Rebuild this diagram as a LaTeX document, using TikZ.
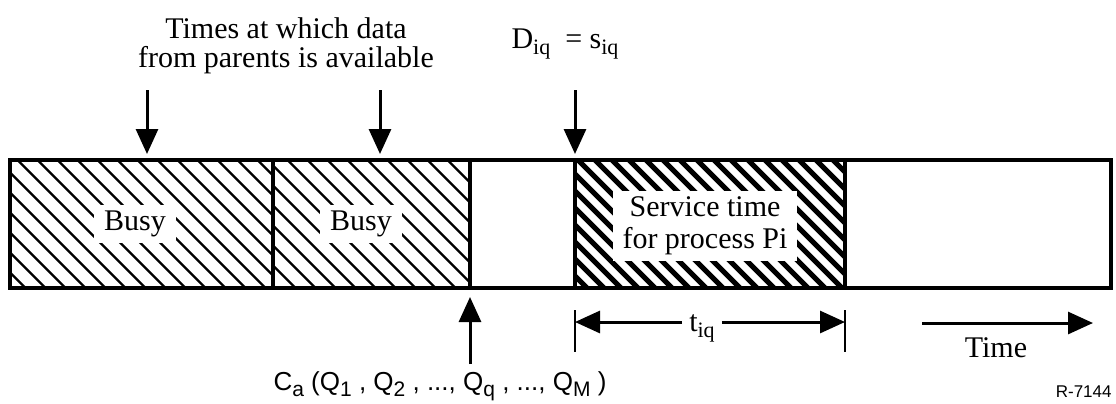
\documentclass[tikz,border=0pt]{standalone}
\usepackage{fontspec}
\setmainfont{Liberation Serif}
\newfontfamily\helv{Liberation Sans}
\usetikzlibrary{arrows.meta,positioning}
\newcommand\lsub[2][11]{\raisebox{-0.45ex}{\fontsize{#1}{#1}\selectfont #2}}

\begin{document}
\begin{tikzpicture}[x=0.5pt,y=-0.5pt,
every node/.style={font=\fontsize{15}{16}\selectfont},
seg/.style={draw,line width=1.6pt,inner sep=0pt,outer sep=0pt,minimum height=64pt},
busy/.style={path picture={\foreach \k in {-300,-280,...,300}
  \draw[line width=1.2pt] ([shift={(\k-150,-150)}]path picture bounding box.center) -- ++(300,300);}},
serv/.style={path picture={\foreach \k in {-306,-289,...,306}
  \draw[line width=2.6pt] ([shift={(\k-150,-150)}]path picture bounding box.center) -- ++(300,300);}},
tag/.style={fill=white,inner xsep=5pt,inner ysep=3pt},
arr/.style={-{Triangle[length=12.5pt,width=11pt]},line width=1.5pt},
tick/.style={line width=1.2pt},
sans/.style={font=\helv\fontsize{13}{13}\selectfont}
]
\useasboundingbox (0,0) rectangle (1116,403);

\node[seg,busy,minimum width=131.5pt,anchor=north west] (busyA) at (10,160) {};
\node[seg,busy,minimum width=98.5pt,right=0pt of busyA]  (busyB) {};
\node[seg,minimum width=52.5pt,right=0pt of busyB]       (idle)  {};
\node[seg,serv,minimum width=135pt,right=0pt of idle]    (serv)  {};
\node[seg,minimum width=133pt,right=0pt of serv]         (rest)  {};

\node[tag] (busyAl) at (135,224) {Busy};
\node[tag] (busyBl) at (361,224) {Busy};
\node[tag,align=center] (servl) at (705,226) {Service time\\for process Pi};

\node[align=center,font=\fontsize{15}{14.5}\selectfont] (avail) at (286,46) {Times at which data\\from parents is available};
\node[anchor=base] (dlab) at (565,48) {D\lsub{iq}\ \ = s\lsub{iq}};

\coordinate (inA) at (147,90);
\coordinate (inB) at (380,90);
\coordinate (inS) at (serv.north west |- inA);
\draw[arr,shorten >=3pt] (inA) -- (inA |- busyA.north);
\draw[arr,shorten >=3pt] (inB) -- (inB |- busyB.north);
\draw[arr,shorten >=3pt] (inS) -- (serv.north west);

\node[sans,anchor=base] (calab) at (440,390) {C\lsub[10.5]{a} (Q\lsub[10.5]{1} , Q\lsub[10.5]{2} , ..., Q\lsub[10.5]{q} , ..., Q\lsub[10.5]{M} )};
\draw[arr,shorten >=4.5pt] (calab.north -| busyB.south east) -- (busyB.south east);

\coordinate[below=11pt of serv.south west] (tickL);
\coordinate[below=11pt of serv.south east] (tickR);
\draw[tick] (tickL) -- ++(0,42);
\draw[tick] (tickR) -- ++(0,42);
\node (tlab) at (702,328) {t\lsub{iq}};
\coordinate (tmid) at (700,322);
\draw[arr] (tmid -| tlab.west) -- (tmid -| tickL);
\draw[arr] (tmid -| tlab.east) -- (tmid -| tickR);

\coordinate (tstart) at (922,323);
\coordinate (tend)   at (1093,323);
\draw[arr] (tstart) -- (tend);
\node[anchor=base] (timel) at (996,357) {Time};

\node[anchor=base east,inner sep=0pt,font=\helv\fontsize{8.5}{10}\selectfont] (ref) at (1112,397) {R-7144};
\end{tikzpicture}
\end{document}
